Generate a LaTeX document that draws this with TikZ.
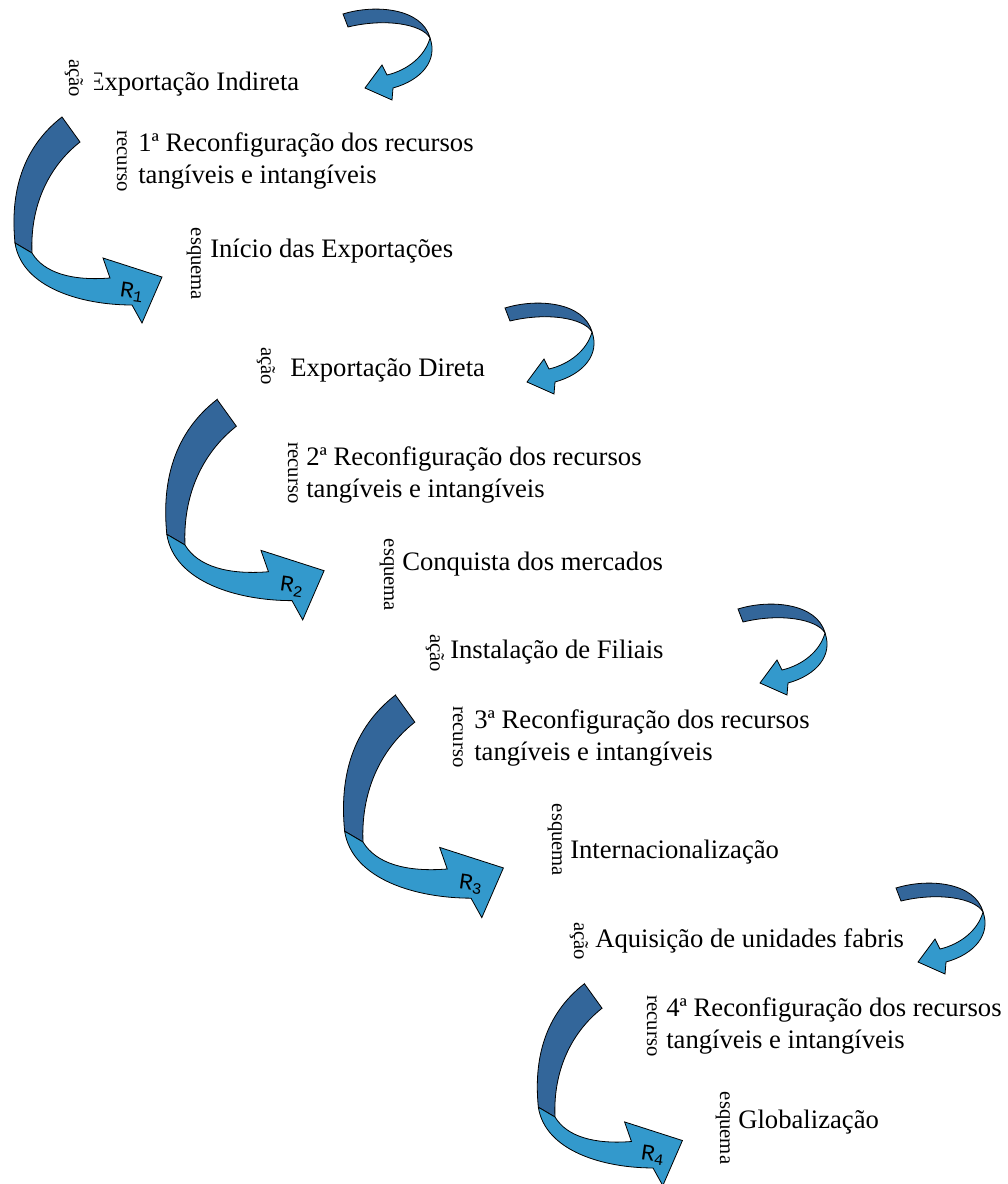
\documentclass[tikz,border=0pt]{standalone}
\usepackage{fontspec}
\setmainfont{Liberation Serif}
\newfontfamily\rfont{Liberation Mono}
\definecolor{ribbondark}{HTML}{33669A}
\definecolor{ribbonlight}{HTML}{3399CC}
\tikzset{
  ribbon/.style={draw=black, line width=0.6pt, line join=miter},
  stage/.style={font=\fontsize{20}{23.5}\selectfont, inner sep=0pt, anchor=base west, align=left},
  tag/.style={font=\fontsize{15.5}{16}\selectfont, rotate=-90, inner sep=0pt},
  rlab/.style={font=\rfont\fontsize{17}{17}\selectfont, rotate=-8, inner sep=0pt},
  % large twisted arrow, origin at the twist point
  bigarrow/.pic={
    \path[ribbon, fill=ribbondark]
      (30,-136) -- (48,-111) .. controls (15,-85) and (-2,-45) .. (0,0)
      -- (-17,-10) .. controls (-22,-60) and (-10,-105) .. cycle;
    \path[ribbon, fill=ribbonlight]
      (-17,-10) -- (0,0) .. controls (12,20) and (40,28) .. (78,25)
      -- (71,5) -- (130,24) -- (110,70) -- (100,52)
      .. controls (50,52) and (-10,35) .. cycle;
    \node[rlab] (-r) at (100,39) {R\textsubscript{#1}};
  },
  % small twisted arrow, origin at the twist point
  smallarrow/.pic={
    \path[ribbon, fill=ribbondark]
      (-87,-24) .. controls (-55,-34) and (-8,-30) .. (0,0)
      .. controls (-8,-14) and (-45,-20) .. (-82,-11) -- cycle;
    \path[ribbon, fill=ribbonlight]
      (0,0) .. controls (8,22) and (-8,42) .. (-37,50)
      -- (-38,62) -- (-65,50) -- (-48,27) -- (-43,37)
      .. controls (-22,32) and (-5,18) .. cycle;
  }
}
\begin{document}
\begin{tikzpicture}[x=0.75pt, y=-0.75pt]
\useasboundingbox (0,0) rectangle (1007,1184);

% arrows
\pic (s1) at (430,38) {smallarrow};
\pic (s2) at (592,332) {smallarrow};
\pic (s3) at (825,633) {smallarrow};
\pic (s4) at (983,912) {smallarrow};
\pic (b1) at (32,253) {bigarrow=1};
\pic[scale=1.07] (b2) at (185,545) {bigarrow=2};
\pic[scale=1.08] (b3) at (363,842) {bigarrow=3};
\pic[scale=0.98] (b4) at (555,1117) {bigarrow=4};

% stage 1 (the label box hides the stem of the first letter)
\node[stage] (a1) at (88,91) {Exportação Indireta};
\node[tag, fill=white, inner ysep=8.5pt] (ta1) at (74,78) {ação};
\node[stage] (r1) at (138,183) {1ª Reconfiguração dos recursos\\tangíveis e intangíveis};
\node[tag] (tr1) at (122,161) {recurso};
\node[stage] (e1) at (210,257) {Início das Exportações};
\node[tag] (te1) at (194,264) {esquema};

% stage 2
\node[stage] (a2) at (290,376) {Exportação Direta};
\node[tag] (ta2) at (266,366) {ação};
\node[stage] (r2) at (306,497) {2ª Reconfiguração dos recursos\\tangíveis e intangíveis};
\node[tag] (tr2) at (293,473) {recurso};
\node[stage] (e2) at (402,570) {Conquista dos mercados};
\node[tag] (te2) at (387,575) {esquema};

% stage 3
\node[stage] (a3) at (450,658) {Instalação de Filiais};
\node[tag] (ta3) at (435,653) {ação};
\node[stage] (r3) at (474,760) {3ª Reconfiguração dos recursos\\tangíveis e intangíveis};
\node[tag] (tr3) at (458,737) {recurso};
\node[stage] (e3) at (570,858) {Internacionalização};
\node[tag] (te3) at (555,840) {esquema};

% stage 4
\node[stage] (a4) at (595,947) {Aquisição de unidades fabris};
\node[tag] (ta4) at (579,941) {ação};
\node[stage] (r4) at (666,1048) {4ª Reconfiguração dos recursos\\tangíveis e intangíveis};
\node[tag] (tr4) at (652,1026) {recurso};
\node[stage] (e4) at (738,1128) {Globalização};
\node[tag] (te4) at (723,1128) {esquema};
\end{tikzpicture}
\end{document}
